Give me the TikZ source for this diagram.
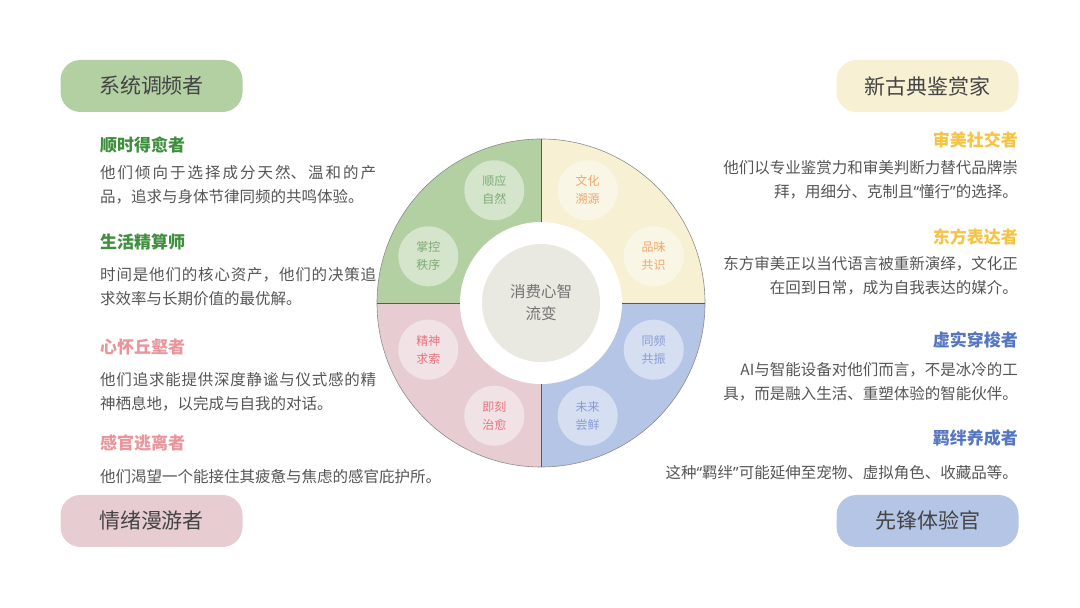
\documentclass[tikz,border=0pt]{standalone}
\usepackage{fontspec}
\setmainfont{Noto Sans CJK SC}
\newfontfamily\quotefont{Noto Sans}
\usetikzlibrary{positioning,calc}
\XeTeXlinebreaklocale "zh"
\XeTeXlinebreakskip=0pt plus 1.5pt
\newcommand{\openq}{{\quotefont “}}
\newcommand{\closeq}{{\quotefont ”}}
\definecolor{grnfill}{HTML}{B3D0A3}
\definecolor{ylwfill}{HTML}{F7F0D3}
\definecolor{blufill}{HTML}{B4C5E6}
\definecolor{pnkfill}{HTML}{E7CDD1}
\definecolor{grnhead}{HTML}{3F8F3F}
\definecolor{ylwhead}{HTML}{F6C445}
\definecolor{bluhead}{HTML}{5677C0}
\definecolor{pnkhead}{HTML}{E8969C}
\definecolor{grntxt}{HTML}{7FAA76}
\definecolor{ylwtxt}{HTML}{F2A66A}
\definecolor{blutxt}{HTML}{8A9BD4}
\definecolor{pnktxt}{HTML}{E8727E}
\definecolor{bodytext}{HTML}{555555}
\definecolor{pilltext}{HTML}{444444}
\definecolor{hubfill}{HTML}{E9E9E1}
\tikzset{
  pill/.style={rounded corners=20pt, minimum width=182pt, minimum height=52pt, inner sep=0pt, font=\fontsize{21}{24}\selectfont, text=pilltext},
  head/.style={inner sep=0pt, font=\fontsize{17}{20}\selectfont\bfseries},
  body/.style={inner sep=0pt, font=\fontsize{15.5}{24}\selectfont, text=bodytext},
  lbody/.style={body, anchor=west, text width=276pt, align=justify},
  rbody/.style={body, anchor=east, align=right},
  facet/.style={circle, fill=white, fill opacity=0.45, text opacity=1, minimum size=60pt, inner sep=0pt, align=center, font=\fontsize{12}{18}\selectfont},
  hub/.style={circle, fill=hubfill, minimum size=118pt, inner sep=0pt, align=center, text=black!55, font=\fontsize{15.5}{22}\selectfont},
  rim/.style={draw=black!45, line width=0.6pt},
  divider/.style={draw=black!65, line width=0.8pt},
}
\begin{document}
\begin{tikzpicture}[x=1pt,y=1pt]
  \useasboundingbox (0,0) rectangle (1080,608);
  \coordinate (c) at (541,305);
  % quarter wheel
  \foreach \a/\col in {90/grnfill,0/ylwfill,270/blufill,180/pnkfill}
    \fill[\col] (c) -- ++(\a:164) arc[start angle=\a, end angle=\a+90, radius=164] -- cycle;
  \draw[rim] (c) circle[radius=164];
  \draw[divider] ([xshift=-164pt]c) -- ([xshift=164pt]c);
  \draw[divider] ([yshift=-164pt]c) -- ([yshift=164pt]c);
  \fill[white] (c) circle[radius=81];
  \node[hub] (hub) at (c) {消费心智\\流变};
  \foreach \a/\t/\col [count=\i] in {112.5/{顺应\\自然}/grntxt, 157.5/{掌控\\秩序}/grntxt,
      67.5/{文化\\溯源}/ylwtxt, 22.5/{品味\\共识}/ylwtxt,
      -22.5/{同频\\共振}/blutxt, -67.5/{未来\\尝鲜}/blutxt,
      202.5/{精神\\求索}/pnktxt, 247.5/{即刻\\治愈}/pnktxt}
    \node[facet, text=\col] (f\i) at ($(c)+(\a:122)$) {\t};

  % persona pills
  \node[pill, fill=grnfill] (sys) at (151.5,522) {系统调频者};
  \node[pill, fill=ylwfill] (neo) at (927.5,522) {新古典鉴赏家};
  \node[pill, fill=pnkfill] (emo) at (151.5,87) {情绪漫游者};
  \node[pill, fill=blufill] (pio) at (927.5,87) {先锋体验官};

  % left column
  \node[head, text=grnhead, anchor=west] (h1) at (100,463) {顺时得愈者};
  \node[lbody] (b1) at (100,423) {他们倾向于选择成分天然、温和的产品，追求与身体节律同频的共鸣体验。};
  \node[head, text=grnhead, anchor=west] (h2) at (100,366) {生活精算师};
  \node[lbody] (b2) at (100,321) {时间是他们的核心资产，他们的决策追求效率与长期价值的最优解。};
  \node[head, text=pnkhead, anchor=west] (h3) at (100,261) {心怀丘壑者};
  \node[lbody] (b3) at (100,216.5) {他们追求能提供深度静谧与仪式感的精神栖息地，以完成与自我的对话。};
  \node[head, text=pnkhead, anchor=west] (h4) at (100,165) {感官逃离者};
  \node[body, anchor=west] (b4) at (100,131) {他们渴望一个能接住其疲惫与焦虑的感官庇护所。};

  % right column
  \node[head, text=ylwhead, anchor=east] (h5) at (1018,468) {审美社交者};
  \node[rbody] (b5) at (1018,428) {他们以专业鉴赏力和审美判断力替代品牌崇\\拜，用细分、克制且\openq 懂行\closeq 的选择。};
  \node[head, text=ylwhead, anchor=east] (h6) at (1018,371) {东方表达者};
  \node[rbody] (b6) at (1018,332.5) {东方审美正以当代语言被重新演绎，文化正\\在回到日常，成为自我表达的媒介。};
  \node[head, text=bluhead, anchor=east] (h7) at (1018,268) {虚实穿梭者};
  \node[rbody] (b7) at (1018,226.5) {AI与智能设备对他们而言，不是冰冷的工\\具，而是融入生活、重塑体验的智能伙伴。};
  \node[head, text=bluhead, anchor=east] (h8) at (1018,170) {羁绊养成者};
  \node[body, anchor=east] (b8) at (1018,135) {这种\openq 羁绊\closeq 可能延伸至宠物、虚拟角色、收藏品等。};
\end{tikzpicture}
\end{document}
